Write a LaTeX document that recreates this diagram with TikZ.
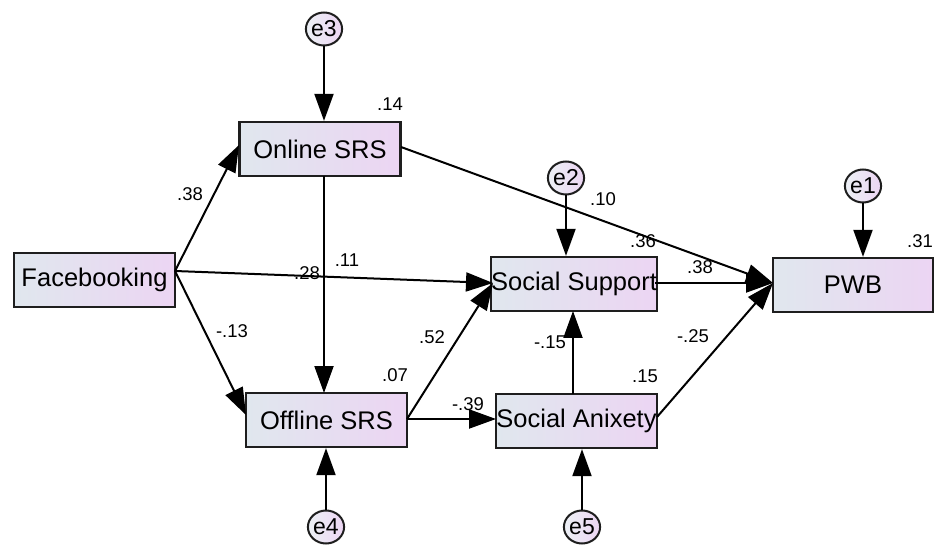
\documentclass[tikz,border=0pt]{standalone}
\usepackage{fontspec}
\setmainfont{Liberation Sans}
\usetikzlibrary{arrows.meta,shapes.geometric}
\definecolor{lcol}{RGB}{224,231,238}
\definecolor{rcol}{RGB}{236,213,243}
\definecolor{edge}{RGB}{30,30,30}
\tikzset{
  box/.style={draw=edge, line width=2.3pt, minimum width=161pt, minimum height=54pt, inner sep=0pt,
    left color=lcol, right color=rcol,
    font=\fontsize{25.5}{28}\selectfont},
  err/.style={ellipse, draw=edge, line width=2pt, minimum width=36pt, minimum height=33pt, inner sep=0pt,
    left color=lcol!60!white, right color=rcol,
    font=\fontsize{23}{26}\selectfont},
  pth/.style={draw=black, line width=2pt, -{Triangle[length=27pt,width=19pt]}},
  lbl/.style={font=\fontsize{18.5}{20}\selectfont, inner sep=0pt}
}
\begin{document}
\begin{tikzpicture}[x=1pt,y=-1pt]
\useasboundingbox (0,0) rectangle (938,548);
% boxes
\node[box] (fb) at (94.5,280) {Facebooking};
\node[box] (on) at (320,149) {Online SRS};
\node[box] (off) at (326.5,420) {Offline SRS};
\node[box] (ss) at (574,284) {Social Support};
\node[box] (sa) at (576.5,421) {Social Anixety};
\node[box, minimum width=160pt] (pwb) at (853,285) {PWB};
% errors
\node[err] (e3) at (324,29) {e3};
\node[err] (e2) at (566,178) {e2};
\node[err] (e1) at (863,186) {e1};
\node[err] (e4) at (326,527) {e4};
\node[err] (e5) at (582,527) {e5};
% coordinates
\coordinate (fbo) at (175,271);
\coordinate (onin) at (239,145);
\coordinate (offin) at (246,415);
\coordinate (ssin) at (493,283);
\coordinate (ono) at (401,147);
\coordinate (pwbin) at (773,283);
\coordinate (sso) at (655,283);
\coordinate (sao) at (657,417);
\coordinate (offo) at (407,419);
\coordinate (sain) at (496,419);
\coordinate (onb) at (324,176);
\coordinate (offt) at (324,393);
\coordinate (sat) at (573,394);
\coordinate (ssb) at (573,311);
% paths
\draw[pth] (fbo) -- (onin);
\draw[pth] (fbo) -- (offin);
\draw[pth] (fbo) -- (ssin);
\draw[pth] (e3) -- (e3 |- on.north);
\draw[pth] (onb) -- (offt);
\draw[pth] (ono) -- (pwbin);
\draw[pth] (sso) -- (pwbin);
\draw[pth] (sao) -- (pwbin);
\draw[pth] (offo) -- (ssin);
\draw[pth] (offo) -- (sain);
\draw[pth] (sat) -- (ssb);
\draw[pth] (e2) -- (e2 |- ss.north);
\draw[pth] (e1) -- (e1 |- pwb.north);
\draw[pth] (e4) -- (e4 |- off.south);
\draw[pth] (e5) -- (e5 |- sa.south);
% labels
\node[lbl] (l1) at (190,194) {.38};
\node[lbl] (l2) at (390,104) {.14};
\node[lbl] (l3) at (347,260) {.11};
\node[lbl] (l4) at (307,273) {.28};
\node[lbl] (l5) at (232,331) {-.13};
\node[lbl] (l6) at (395,375) {.07};
\node[lbl] (l7) at (432,337) {.52};
\node[lbl] (l8) at (468,404) {-.39};
\node[lbl] (l9) at (603,199) {.10};
\node[lbl] (l10) at (643,241) {.36};
\node[lbl] (l11) at (700,267) {.38};
\node[lbl] (l12) at (920,241) {.31};
\node[lbl] (l13) at (550,342) {-.15};
\node[lbl] (l14) at (645,376) {.15};
\node[lbl] (l15) at (693,336) {-.25};
\end{tikzpicture}
\end{document}
